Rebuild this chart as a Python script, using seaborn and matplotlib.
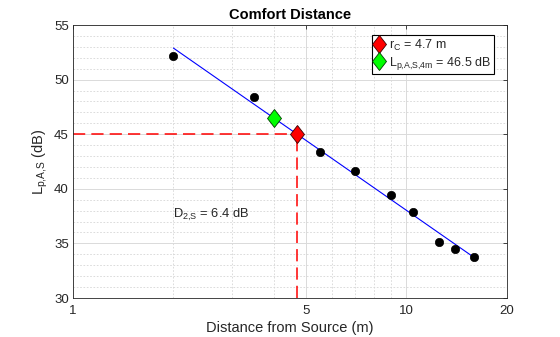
import numpy as np
import pandas as pd
import matplotlib
matplotlib.use("Agg")
import matplotlib.pyplot as plt
import seaborn as sns
from matplotlib.markers import MarkerStyle
from matplotlib.transforms import Affine2D
from matplotlib.ticker import FixedLocator, NullFormatter, MultipleLocator, FixedFormatter

# Data
distance_m = [2.0, 3.5, 5.5, 7.0, 9.0, 10.5, 12.5, 14.0, 16.0]
level_db = [52.2, 48.4, 43.35, 41.6, 39.4, 37.85, 35.1, 34.45, 33.75]

# Fit / derived values
d2s_db = 6.4          # decay per doubling of distance
rc_m = 4.7            # comfort distance
l_rc_db = 45.0        # level at comfort distance
l4m_x = 4.0
l4m_db = 46.5
fit_range = [2.0, 16.0]

xticks = [1, 5, 10, 20]
xtick_labels = ["1", "5", "10", "20"]

sns.set_style("white")
plt.rcParams["font.family"] = ["Liberation Sans", "DejaVu Sans"]
plt.rcParams["mathtext.fontset"] = "custom"
plt.rcParams["mathtext.rm"] = "Liberation Sans"
plt.rcParams["mathtext.it"] = "Liberation Sans:italic"

fig = plt.figure(figsize=(5.6, 3.37), dpi=100)
ax = fig.add_axes([0.1304, 0.1157, 0.7746, 0.8101])
ax.set_xscale("log")
ax.set_axisbelow(True)

# fit line
fx = np.geomspace(fit_range[0], fit_range[1], 50)
fy = l_rc_db - d2s_db * np.log2(fx / rc_m)
sns.lineplot(x=fx, y=fy, ax=ax, color="blue", linewidth=0.8, zorder=3)

# data points
sns.scatterplot(x=distance_m, y=level_db, ax=ax, color="black", s=36,
                edgecolor="black", linewidth=0.5, zorder=4)

# dashed guide lines
ax.plot([1, rc_m], [l_rc_db, l_rc_db], color="red", lw=1.1, dashes=(8, 4), zorder=2)
ax.plot([rc_m, rc_m], [30, l_rc_db], color="red", lw=1.1, dashes=(8, 4), zorder=2)

dm = MarkerStyle("D", transform=Affine2D().scale(0.78, 1.0))
ax.plot([rc_m], [l_rc_db], linestyle="none", marker=dm, markersize=9,
        markerfacecolor="red", markeredgecolor="#3a0000", markeredgewidth=0.6,
        zorder=5, label=r"r$_\mathrm{C}$ = 4.7 m")
ax.plot([l4m_x], [l4m_db], linestyle="none", marker=dm, markersize=9,
        markerfacecolor="#00ff00", markeredgecolor="#003a00", markeredgewidth=0.6,
        zorder=5, label=r"L$_\mathrm{p{,}A{,}S{,}4m}$ = 46.5 dB")

ax.text(2.0, 37.6, r"D$_\mathrm{2{,}S}$ = 6.4 dB", fontsize=9.3, va="center",
        ha="left", color="#262626")

ax.set_xlim(1, 20)
ax.set_ylim(30, 55)
ax.xaxis.set_major_locator(FixedLocator(xticks))
ax.xaxis.set_major_formatter(FixedFormatter(xtick_labels))
ax.xaxis.set_minor_locator(FixedLocator([2, 3, 4, 6, 7, 8, 9]))
ax.xaxis.set_minor_formatter(NullFormatter())
ax.yaxis.set_major_locator(MultipleLocator(5))
ax.yaxis.set_minor_locator(MultipleLocator(1))

ax.grid(which="major", color="#dadada", linewidth=0.7, linestyle="-")
ax.grid(which="minor", color="#d6d6d6", linewidth=0.6, linestyle=(0, (2, 2)))

ax.tick_params(which="both", direction="in", top=True, right=True,
               labelsize=9.5, colors="#262626", length=3, width=0.6, pad=3)
ax.tick_params(axis="x", which="major", pad=5)
ax.tick_params(which="minor", length=0)
for s in ax.spines.values():
    s.set_color("#262626")
    s.set_linewidth(0.6)

ax.set_xlabel("Distance from Source (m)", fontsize=10.5, color="#262626", labelpad=3)
ax.set_ylabel(r"L$_\mathrm{p{,}A{,}S}$ (dB)", fontsize=10.5, color="#262626", labelpad=3)
ax.set_title("Comfort Distance", fontsize=10.5, fontweight="bold", color="black", pad=4)

leg = ax.legend(loc="upper right", fontsize=9, frameon=True, fancybox=False,
                edgecolor="black", framealpha=1, handlelength=0.8,
                handletextpad=0.4, borderpad=0.2, labelspacing=0.15,
                bbox_to_anchor=(0.985, 0.985))
leg.get_frame().set_linewidth(0.8)

fig.savefig("out.png", dpi=100)
